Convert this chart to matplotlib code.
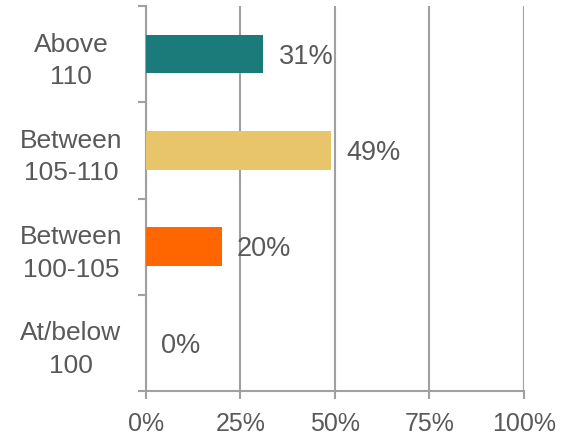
import matplotlib
matplotlib.use("Agg")
import matplotlib.pyplot as plt

# categories from top to bottom, share of total in percent
categories = ["Above\n110", "Between\n105-110", "Between\n100-105", "At/below\n100"]
values = [31, 49, 20, 0]
colors = ["#1B7B7B", "#E8C56A", "#FF6600", "#FFFFFF"]
xticks = [0, 25, 50, 75, 100]
xtick_labels = ["0%", "25%", "50%", "75%", "100%"]

text_color = "#595959"
line_color = "#A0A0A0"
plt.rcParams["font.family"] = ["Liberation Sans", "DejaVu Sans"]

fig = plt.figure(figsize=(5.63, 4.38), dpi=100)
ax = fig.add_axes([0.2593, 0.1073, 0.9307 - 0.2593, 0.9863 - 0.1073])

ypos = list(range(len(categories) - 1, -1, -1))
ax.barh(ypos, values, height=0.4, color=colors, zorder=3)

for y, v in zip(ypos, values):
    ax.annotate("%d%%" % v, xy=(v, y), xytext=(11, -2), textcoords="offset points",
                ha="left", va="center", fontsize=19.5, color=text_color, zorder=4)

ax.set_xlim(0, 100)
ax.set_ylim(-0.5, len(categories) - 0.5)
ax.set_xticks(xticks)
ax.set_xticklabels(xtick_labels, fontsize=18, color=text_color)
ax.xaxis.grid(True, color=line_color, linewidth=1.5, zorder=0)

# category separators as major ticks, names as minor ticks
ax.set_yticks([y - 0.5 for y in range(len(categories) + 1)])
ax.set_yticklabels([])
ax.set_yticks(ypos, minor=True)
ax.set_yticklabels(categories, minor=True, fontsize=19, color=text_color)
for lab in ax.get_yticklabels(minor=True):
    lab.set_ha("center")
    lab.set_multialignment("center")
    lab.set_linespacing(1.45)

ax.tick_params(axis="y", which="major", length=6, width=1.5, color=line_color)
ax.tick_params(axis="y", which="minor", length=0, pad=54)
ax.tick_params(axis="x", length=6, width=1.5, color=line_color, pad=9)

for side in ["top", "right"]:
    ax.spines[side].set_visible(False)
for side in ["left", "bottom"]:
    ax.spines[side].set_color(line_color)
    ax.spines[side].set_linewidth(1.5)

fig.savefig("out.png", dpi=100)
